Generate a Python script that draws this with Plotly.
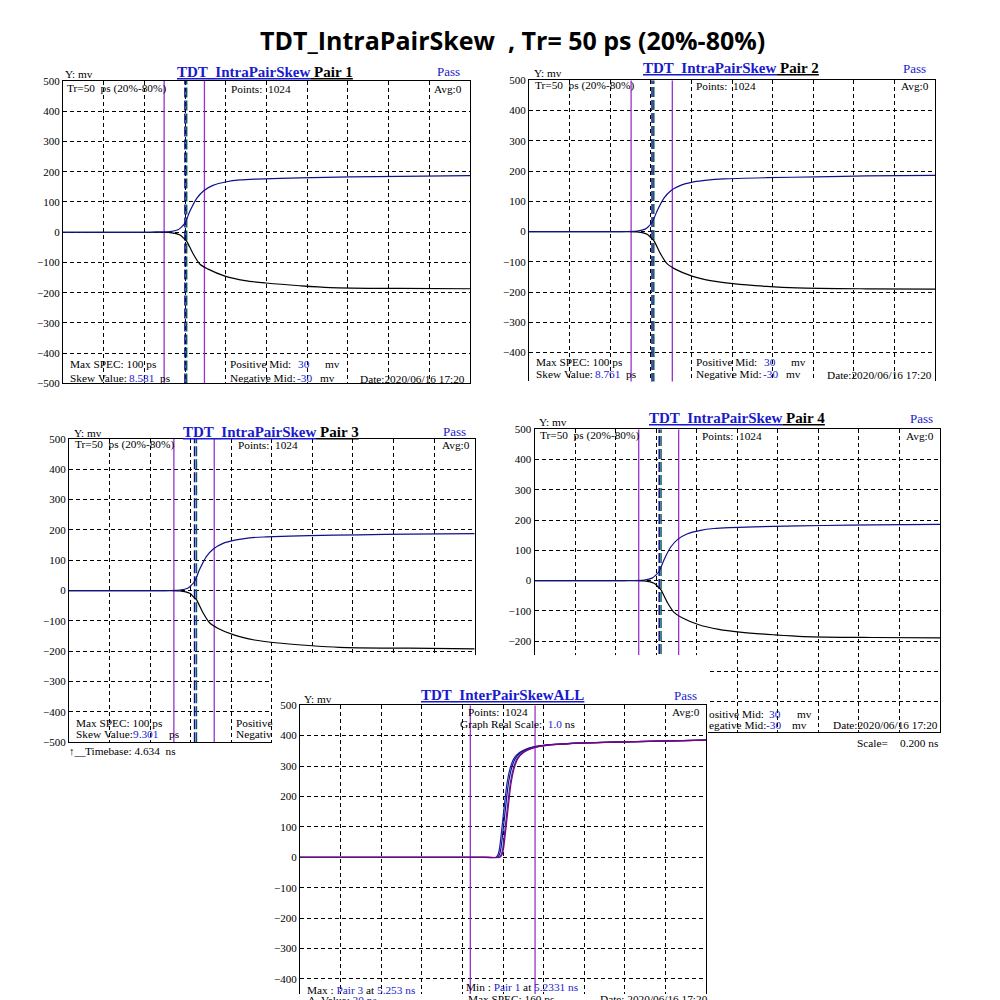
import plotly.graph_objects as go

# ---------------- values ----------------
MV_TICKS = [500, 400, 300, 200, 100, 0, -100, -200, -300, -400, -500]
TIME_RANGE_NS = [4.634, 6.634]          # timebase 4.634 ns, 10 div x 0.200 ns
ALL_TIME_RANGE_NS = [4.25, 6.25]
DIV_NS = 0.2

# Pair 1 (positive = blue, negative = black), mV vs ns
P1_T_POS = [4.634, 5.062, 5.160, 5.199, 5.216, 5.233, 5.258, 5.291, 5.327, 5.371, 5.438, 5.504, 5.586, 5.797, 6.043, 6.289, 6.634]
P1_V_POS = [0, 0, 2, 8, 17, 30, 70, 112, 138, 155, 167, 173, 176, 180, 183, 185, 187]
P1_T_NEG = [4.634, 5.062, 5.160, 5.209, 5.230, 5.242, 5.274, 5.307, 5.347, 5.430, 5.528, 5.632, 5.797, 5.946, 6.289, 6.634]
P1_V_NEG = [0, 0, -1, -9, -22, -30, -72, -106, -122, -145, -160, -168, -177, -183, -186, -187]

P2_T_POS = [4.634, 5.069, 5.167, 5.206, 5.223, 5.240, 5.265, 5.298, 5.334, 5.378, 5.445, 5.511, 5.593, 5.804, 6.050, 6.296, 6.634]
P2_V_POS = [0, 0, 2, 8, 17, 30, 68, 110, 136, 152, 164, 170, 174, 178, 181, 184, 186]
P2_T_NEG = [4.634, 5.069, 5.167, 5.216, 5.237, 5.249, 5.281, 5.314, 5.354, 5.437, 5.535, 5.639, 5.804, 5.953, 6.296, 6.634]
P2_V_NEG = [0, 0, -1, -9, -22, -30, -72, -106, -124, -147, -163, -172, -181, -186, -189, -190]

P3_T_POS = [4.634, 5.082, 5.180, 5.219, 5.236, 5.253, 5.278, 5.311, 5.347, 5.391, 5.458, 5.524, 5.606, 5.817, 6.063, 6.309, 6.634]
P3_V_POS = [0, 0, 2, 8, 17, 30, 70, 112, 138, 155, 167, 174, 177, 181, 184, 186, 188]
P3_T_NEG = [4.634, 5.082, 5.180, 5.229, 5.250, 5.262, 5.294, 5.327, 5.367, 5.450, 5.548, 5.652, 5.817, 5.966, 6.309, 6.634]
P3_V_NEG = [0, 0, -1, -9, -22, -30, -72, -106, -124, -147, -163, -172, -181, -187, -190, -192]

P4_T_POS = [4.634, 5.077, 5.175, 5.214, 5.231, 5.248, 5.273, 5.306, 5.342, 5.386, 5.453, 5.519, 5.601, 5.812, 6.058, 6.304, 6.634]
P4_V_POS = [0, 0, 2, 8, 17, 30, 69, 111, 137, 154, 166, 172, 175, 179, 182, 184, 186]
P4_T_NEG = [4.634, 5.077, 5.175, 5.224, 5.245, 5.257, 5.289, 5.322, 5.362, 5.445, 5.543, 5.647, 5.812, 5.961, 6.304, 6.634]
P4_V_NEG = [0, 0, -1, -9, -22, -30, -72, -105, -123, -146, -161, -170, -179, -185, -188, -189]

# cursors (ns)
PURPLE_CURSORS = [[5.131, 5.329], [5.137, 5.340], [5.151, 5.350], [5.148, 5.345]]
CROSS_POS_NS = [5.2331, 5.2400, 5.2530, 5.2490]
CROSS_NEG_NS = [5.2417, 5.2488, 5.2623, 5.2580]

# Inter-pair (all positive legs)
ALL_V = [0, 0, 0, 0, 8, 30, 80, 160, 240, 290, 325, 345, 358, 367, 375, 381, 385]
ALL_T_PAIR1 = [4.25, 4.80, 5.13, 5.215, 5.225, 5.233, 5.242, 5.255, 5.269, 5.284, 5.304, 5.333, 5.373, 5.437, 5.609, 5.954, 6.25]
ALL_T_PAIR2 = [4.25, 4.80, 5.14, 5.222, 5.232, 5.240, 5.249, 5.262, 5.276, 5.291, 5.311, 5.340, 5.380, 5.444, 5.616, 5.961, 6.25]
ALL_T_PAIR4 = [4.25, 4.80, 5.15, 5.231, 5.241, 5.249, 5.258, 5.271, 5.285, 5.300, 5.320, 5.349, 5.389, 5.453, 5.625, 5.970, 6.25]
ALL_T_PAIR3 = [4.25, 4.80, 5.15, 5.235, 5.245, 5.253, 5.262, 5.275, 5.289, 5.304, 5.324, 5.353, 5.393, 5.457, 5.629, 5.974, 6.25]
ALL_CURSORS = [5.089, 5.408]

PAIR_LABELS = ["Pair 1", "Pair 2", "Pair 3", "Pair 4"]
SKEW_PS = ["8.581", "8.761", "9.301", ""]
MAX_SPEC_PS = "100"
POS_MID_MV = "30"
NEG_MID_MV = "-30"
POINTS = "1024"
DATE = "2020/06/16 17:20"
TIMEBASE = "4.634"
SCALE = "0.200"
REAL_SCALE = "1.0"
INTER_MAX = ("Pair 3", "5.253")
INTER_MIN = ("Pair 1", "5.2331")
INTER_DELTA_PS = "20"
INTER_SPEC_PS = "160"

# ---------------- styling ----------------
SERIF = "Liberation Serif"
BODY = 11.3
BLUE = "#1a1acd"
NAVY = "#10108a"
PURPLE = "#9932cc"
TEAL = "#0a5a5a"
NB = "\u00a0"

# vertical screen compensation (page is photographed slightly squeezed)
VA, VB = 0.987, 6.5


def Y(y):
    return (y - VB) / VA


def sp(t):
    return t.replace(" ", NB)


def blue(t):
    return f"<span style='color:{BLUE}'>{sp(t)}</span>"


fig = go.Figure()
annotations = []


def ann(x, y, text, anchor="left", size=BODY, color="black", family=SERIF):
    annotations.append(dict(x=x / 1000, y=1 - Y(y) / 1000, xref="paper", yref="paper",
                            text=text, showarrow=False, xanchor=anchor, yanchor="middle",
                            font=dict(family=family, size=size, color=color)))


# panel boxes (pixels in the reference): L, T, R, B
BOXES = [(63, 81.5, 470, 383.5), (529, 80.7, 935, 381.5), (69, 439, 474.7, 742), (534.5, 429.3, 940, 731.7)]
YRANGES = [[-500, 500], [-495, 500], [-500, 500], [-500, 500]]
BOX5 = (300, 705, 706, 1000)
YRANGE5 = [-471, 500]
OCCLUDER = (272, 655, 708, 1000)

layout_axes = {}


def vdomain(T, B, yr):
    top, bot = Y(T), Y(B)
    if bot > 1000:
        lo = yr[1] - (yr[1] - yr[0]) * ((VB + VA * 1000) - T) / (B - T)
        yr = [lo, yr[1]]
        bot = 1000
    return [max(0.0, 1 - bot / 1000), 1 - top / 1000], yr


def make_axes(n, box, xr, yr, top_only=False):
    L, T, R, B = box
    xs = "" if n == 1 else str(n)
    dom, yr = vdomain(T, B, yr)
    layout_axes["xaxis" + xs] = dict(
        domain=[L / 1000, R / 1000], range=xr, tick0=xr[0], dtick=DIV_NS,
        showgrid=True, gridcolor="black", griddash="4px,3px", gridwidth=1,
        showticklabels=False, ticks="", showline=True, linecolor="black", linewidth=1,
        mirror=not top_only, side="top" if top_only else "bottom", zeroline=False,
        anchor="y" + xs, fixedrange=True)
    layout_axes["yaxis" + xs] = dict(
        domain=dom, range=yr, tickmode="array", tickvals=MV_TICKS,
        showgrid=True, gridcolor="black", griddash="4px,3px", gridwidth=1,
        ticks="", showline=True, linecolor="black", linewidth=1, mirror=True,
        zeroline=False, anchor="x" + xs, fixedrange=True, ticklabelstandoff=0,
        tickfont=dict(family=SERIF, size=11, color="black"))
    return "x" + xs, "y" + xs


def vline(xa, ya, t, color, dash="solid", width=1.3):
    fig.add_trace(go.Scatter(x=[t, t], y=[-500, 500], mode="lines", xaxis=xa, yaxis=ya,
                             line=dict(color=color, width=width, dash=dash),
                             hoverinfo="skip", showlegend=False))


T_POS = [P1_T_POS, P2_T_POS, P3_T_POS, P4_T_POS]
V_POS = [P1_V_POS, P2_V_POS, P3_V_POS, P4_V_POS]
T_NEG = [P1_T_NEG, P2_T_NEG, P3_T_NEG, P4_T_NEG]
V_NEG = [P1_V_NEG, P2_V_NEG, P3_V_NEG, P4_V_NEG]

for i in range(4):
    xa, ya = make_axes(i + 1, BOXES[i], TIME_RANGE_NS, YRANGES[i], top_only=(i == 1))
    for c in PURPLE_CURSORS[i]:
        vline(xa, ya, c, PURPLE)
    vline(xa, ya, CROSS_NEG_NS[i], TEAL, dash="10px,3px", width=1.5)
    vline(xa, ya, CROSS_POS_NS[i], NAVY, dash="10px,3px", width=1.5)
    fig.add_trace(go.Scatter(x=T_NEG[i], y=V_NEG[i], mode="lines", xaxis=xa, yaxis=ya,
                             line=dict(color="black", width=1.2, shape="spline", smoothing=0.8),
                             hoverinfo="skip", showlegend=False))
    fig.add_trace(go.Scatter(x=T_POS[i], y=V_POS[i], mode="lines", xaxis=xa, yaxis=ya,
                             line=dict(color=NAVY, width=1.2, shape="spline", smoothing=0.8),
                             hoverinfo="skip", showlegend=False))

# occluder: white page of the inter-pair screenshot lying on top of panels 3 and 4
L, T, R, B = OCCLUDER
odom, _ = vdomain(T, B, [0, 1])
layout_axes["xaxis5"] = dict(domain=[L / 1000, R / 1000], range=[0, 1], visible=False, anchor="y5", fixedrange=True)
layout_axes["yaxis5"] = dict(domain=odom, range=[0, 1], visible=False, anchor="x5", fixedrange=True)
fig.add_trace(go.Scatter(x=[0, 1, 1, 0, 0], y=[0, 0, 1, 1, 0], mode="lines", fill="toself",
                         fillcolor="white", line=dict(width=0, color="white"),
                         xaxis="x5", yaxis="y5", hoverinfo="skip", showlegend=False))

# inter-pair panel
xa, ya = make_axes(6, BOX5, ALL_TIME_RANGE_NS, YRANGE5, top_only=True)
for c in ALL_CURSORS:
    vline(xa, ya, c, PURPLE)
for t, col in [(ALL_T_PAIR1, "#1c1ca8"), (ALL_T_PAIR2, NAVY), (ALL_T_PAIR4, "#3c2c9c"), (ALL_T_PAIR3, "#800080")]:
    fig.add_trace(go.Scatter(x=t, y=ALL_V, mode="lines", xaxis=xa, yaxis=ya,
                             line=dict(color=col, width=1.2, shape="spline", smoothing=0.5),
                             hoverinfo="skip", showlegend=False))

# ---------------- texts ----------------
ann(512, 40, "<b>" + sp("TDT_IntraPairSkew  , Tr= 50 ps (20%-80%)") + "</b>", anchor="center",
    size=25, family="Open Sans")

TITLE_POS = [(265, 72), (731, 68.5), (271, 431.7), (737, 418)]
PASS_POS = [(448, 72), (914, 69), (454, 432), (921, 419)]
YMV_POS = [(63, 74.5), (532, 73), (71.7, 433), (537, 422)]
ROW1 = [(65, 229, 464, 89), (533, 694.3, 931, 86), (72.7, 235.7, 471.7, 445), (538, 700, 936, 436)]

for i in range(4):
    ann(*YMV_POS[i], sp("Y: mv"))
    title = (f"<b><span style='color:{BLUE}'><u>TDT_IntraPairSkew</u></span>"
             f"<u>{NB}{sp(PAIR_LABELS[i])}</u></b>")
    ann(*TITLE_POS[i], title, anchor="center", size=15)
    ann(*PASS_POS[i], "Pass", anchor="center", size=13, color=BLUE)
    x_tr, x_pts, x_avg, y_r = ROW1[i]
    ann(x_tr, y_r, sp("Tr=50  ps (20%-80%)"))
    ann(x_pts, y_r, sp("Points:  " + POINTS))
    ann(x_avg, y_r, "Avg:0", anchor="right")

# full bottom block for pairs 1 and 2
for i, (y1, y2, dx, dy) in enumerate([(364, 378, 467, 379), (362.3, 374.3, 934, 375)]):
    L = BOXES[i][0]
    ann(L + 5, y1, sp("Max SPEC: " + MAX_SPEC_PS + " ps"))
    ann(L + 5, y2, sp("Skew Value:"))
    ann(L + 64, y2, blue(SKEW_PS[i]))
    ann(L + 95, y2, "ps")
    ann(L + 165, y1, sp("Positive Mid:"))
    ann(L + 233, y1, blue(POS_MID_MV))
    ann(L + 260, y1, "mv")
    ann(L + 165, y2, sp("Negative Mid:"))
    ann(L + 232, y2, blue(NEG_MID_MV))
    ann(L + 255, y2, "mv")
    ann(dx, dy, sp("Date:" + DATE), anchor="right")

# pair 3 (partly hidden)
L = BOXES[2][0]
ann(L + 5, 722.3, sp("Max SPEC: " + MAX_SPEC_PS + " ps"))
ann(L + 5, 733.3, sp("Skew Value:"))
ann(L + 62, 733.3, blue(SKEW_PS[2]))
ann(L + 98, 733.3, "ps")
ann(L + 165, 722.3, "Positive")
ann(L + 165, 733.3, "Negativ")
ann(67, 751, "↑__", size=11)
ann(83.3, 751, sp("Timebase: " + TIMEBASE + "  ns"))

# pair 4 (partly hidden)
ann(706.7, 713.3, sp("ositive Mid:"))
ann(767.3, 713.3, blue(POS_MID_MV))
ann(795, 713.3, "mv")
ann(706.7, 724.3, sp("egative Mid:"))
ann(764.3, 724.3, blue(NEG_MID_MV))
ann(790, 724.3, "mv")
ann(940, 724.3, sp("Date:" + DATE), anchor="right")
ann(855, 742.7, "Scale=")
ann(940, 742.7, sp(SCALE + " ns"), anchor="right")

# inter-pair panel texts
ann(301.7, 699, sp("Y: mv"))
ann(502, 695, f"<b><span style='color:{BLUE}'><u>TDT_InterPairSkewALL</u></span></b>", anchor="center", size=15)
ann(685.5, 695, "Pass", anchor="center", size=13, color=BLUE)
ann(466, 712, sp("Points:  " + POINTS))
ann(458.3, 724, sp("Graph Real Scale:  ") + blue(REAL_SCALE) + sp(" ns"))
ann(702.3, 712, "Avg:0", anchor="right")
ann(305, 989.5, sp("Max : ") + blue(INTER_MAX[0]) + sp(" at ") + blue(INTER_MAX[1] + " ns"))
ann(464.3, 986.5, sp("Min : ") + blue(INTER_MIN[0]) + sp(" at ") + blue(INTER_MIN[1] + " ns"))
ann(306, 999, sp("Δ  Value: ") + blue(INTER_DELTA_PS + " ps"))
ann(466, 998, sp("Max SPEC: " + INTER_SPEC_PS + " ps"))
ann(598, 998, sp("Date: " + DATE))

fig.update_layout(width=1000, height=1000, margin=dict(l=0, r=0, t=0, b=0),
                  paper_bgcolor="white", plot_bgcolor="white", showlegend=False,
                  annotations=annotations, **layout_axes)

fig.write_html("out.html")
